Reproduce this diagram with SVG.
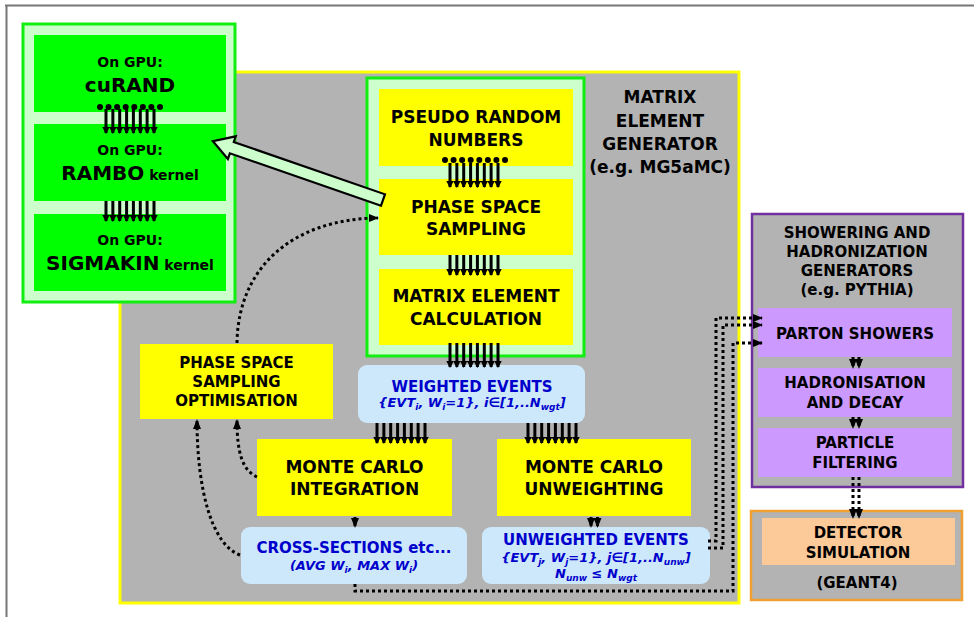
<svg xmlns="http://www.w3.org/2000/svg" xmlns:xlink="http://www.w3.org/1999/xlink" width="974" height="617" viewBox="0 0 974 617">
<style>
text{font-family:"DejaVu Sans","Liberation Sans",sans-serif;font-weight:bold;fill:#000;text-anchor:middle}
.t14{font-size:14px}
.t15{font-size:15px}
.t17{font-size:17px}
.t20{font-size:20px}
.blue{fill:#0000cc}
.it{font-style:italic;font-size:13px;fill:#0000cc}
.sub{font-size:9px}
.yel{fill:#ffff00}
.gpu{fill:#00ff00}
.lb{fill:#cde8fa}
.pur{fill:#cc99ff}
.bar{stroke:#000;stroke-width:3;marker-end:url(#ah)}
.dot{fill:none;stroke:#000;stroke-width:3;stroke-dasharray:3 3}
.dota{marker-end:url(#dah)}
</style>
<defs>
<marker id="ah" markerUnits="userSpaceOnUse" markerWidth="7" markerHeight="7.5" viewBox="0 0 7 7.5" refX="6" refY="3.75" orient="auto"><path d="M0,0L7,3.75L0,7.5z"/></marker>
<marker id="dah" markerUnits="userSpaceOnUse" markerWidth="10" markerHeight="10" viewBox="0 0 10 10" refX="9" refY="5" orient="auto"><path d="M0,1L10,5L0,9z"/></marker>
<g id="b8s" class="bar"><line x1="0" y1="0" x2="0" y2="20"/><line x1="6.86" y1="0" x2="6.86" y2="20"/><line x1="13.7" y1="0" x2="13.7" y2="20"/><line x1="20.6" y1="0" x2="20.6" y2="20"/><line x1="27.4" y1="0" x2="27.4" y2="20"/><line x1="34.3" y1="0" x2="34.3" y2="20"/><line x1="41.1" y1="0" x2="41.1" y2="20"/><line x1="48" y1="0" x2="48" y2="20"/></g>
<g id="b8l" class="bar"><line x1="0" y1="0" x2="0" y2="24"/><line x1="6.86" y1="0" x2="6.86" y2="24"/><line x1="13.7" y1="0" x2="13.7" y2="24"/><line x1="20.6" y1="0" x2="20.6" y2="24"/><line x1="27.4" y1="0" x2="27.4" y2="24"/><line x1="34.3" y1="0" x2="34.3" y2="24"/><line x1="41.1" y1="0" x2="41.1" y2="24"/><line x1="48" y1="0" x2="48" y2="24"/></g>
<g id="d8"><circle cx="0" cy="0" r="3"/><circle cx="8.57" cy="0" r="3"/><circle cx="17.1" cy="0" r="3"/><circle cx="25.7" cy="0" r="3"/><circle cx="34.3" cy="0" r="3"/><circle cx="42.9" cy="0" r="3"/><circle cx="51.4" cy="0" r="3"/><circle cx="60" cy="0" r="3"/></g>
</defs>
<rect width="974" height="617" fill="#fff"/>
<path d="M5,5.5H974M6.5,5V617" stroke="#777" stroke-width="2" fill="none"/>

<g id="meg">
<rect x="120" y="72" width="619" height="531" fill="#b3b3b3" stroke="#ffff00" stroke-width="3"/>
<text class="t17" x="660" y="103">MATRIX</text>
<text class="t17" x="660" y="127">ELEMENT</text>
<text class="t17" x="660" y="150">GENERATOR</text>
<text class="t17" x="660" y="173">(e.g. MG5aMC)</text>
</g>

<g id="gpu">
<rect x="23" y="24" width="212" height="278" fill="#ccffcc" stroke="#11ee11" stroke-width="3"/>
</g>
<g id="curand">
<rect class="gpu" x="34" y="35" width="192" height="77"/>
<text class="t14" x="130" y="67">On GPU:</text>
<text class="t20" x="130" y="92">cuRAND</text>
</g>
<g id="rambo">
<rect class="gpu" x="34" y="124" width="192" height="77"/>
<text class="t14" x="130" y="155">On GPU:</text>
<text x="130" y="180"><tspan class="t20">RAMBO</tspan><tspan class="t14"> kernel</tspan></text>
</g>
<g id="sigmakin">
<rect class="gpu" x="34" y="214" width="192" height="77"/>
<text class="t14" x="130" y="245">On GPU:</text>
<text x="130" y="270"><tspan class="t20">SIGMAKIN</tspan><tspan class="t14"> kernel</tspan></text>
</g>

<g id="mecol">
<rect x="367" y="78" width="217" height="278" fill="#ccffcc" stroke="#11ee11" stroke-width="3"/>
</g>
<g id="prn">
<rect class="yel" x="379" y="89" width="194" height="77"/>
<text class="t17" x="476" y="123">PSEUDO RANDOM</text>
<text class="t17" x="476" y="146">NUMBERS</text>
</g>
<g id="pss">
<rect class="yel" x="379" y="179" width="194" height="76"/>
<text class="t17" x="476" y="213">PHASE SPACE</text>
<text class="t17" x="476" y="235">SAMPLING</text>
</g>
<g id="mec">
<rect class="yel" x="379" y="269" width="194" height="76"/>
<text class="t17" x="476" y="302">MATRIX ELEMENT</text>
<text class="t17" x="476" y="325">CALCULATION</text>
</g>

<g id="wev">
<rect class="lb" x="358" y="365" width="227" height="58" rx="9"/>
<text class="t15 blue" x="472" y="392">WEIGHTED EVENTS</text>
<text class="it" x="472" y="407">{EVT<tspan class="sub" dy="3">i</tspan><tspan dy="-3">, W</tspan><tspan class="sub" dy="3">i</tspan><tspan dy="-3">=1}, i∈[1,..N</tspan><tspan class="sub" dy="3">wgt</tspan><tspan dy="-3">]</tspan></text>
</g>

<g id="pso">
<rect class="yel" x="140" y="344" width="193" height="75"/>
<text class="t15" x="236.5" y="368">PHASE SPACE</text>
<text class="t15" x="236.5" y="387">SAMPLING</text>
<text class="t15" x="236.5" y="406">OPTIMISATION</text>
</g>

<g id="mcint">
<rect class="yel" x="257" y="439" width="195" height="77"/>
<text class="t17" x="354.5" y="473">MONTE CARLO</text>
<text class="t17" x="354.5" y="495">INTEGRATION</text>
</g>
<g id="mcunw">
<rect class="yel" x="497" y="439" width="194" height="77"/>
<text class="t17" x="594" y="473">MONTE CARLO</text>
<text class="t17" x="594" y="495">UNWEIGHTING</text>
</g>

<g id="xsec">
<rect class="lb" x="241" y="527" width="226" height="57" rx="9"/>
<text class="t15 blue" x="354" y="553">CROSS-SECTIONS etc...</text>
<text class="it" x="354" y="570">(AVG W<tspan class="sub" dy="3">i</tspan><tspan dy="-3">, MAX W</tspan><tspan class="sub" dy="3">i</tspan><tspan dy="-3">)</tspan></text>
</g>
<g id="uwev">
<rect class="lb" x="482" y="527" width="228" height="57" rx="9"/>
<text class="t15 blue" x="596" y="545">UNWEIGHTED EVENTS</text>
<text class="it" x="596" y="562">{EVT<tspan class="sub" dy="3">j</tspan><tspan dy="-3">, W</tspan><tspan class="sub" dy="3">j</tspan><tspan dy="-3">=1}, j∈[1,..N</tspan><tspan class="sub" dy="3">unw</tspan><tspan dy="-3">]</tspan></text>
<text class="it" x="596" y="578">N<tspan class="sub" dy="3">unw</tspan><tspan dy="-3"> ≤ N</tspan><tspan class="sub" dy="3">wgt</tspan></text>
</g>

<g id="shower">
<rect x="752" y="214" width="211" height="273" fill="#b3b3b3" stroke="#7030a0" stroke-width="2.5"/>
<text class="t15" x="857" y="238">SHOWERING AND</text>
<text class="t15" x="857" y="257">HADRONIZATION</text>
<text class="t15" x="857" y="276">GENERATORS</text>
<text class="t15" x="857" y="295">(e.g. PYTHIA)</text>
</g>
<g id="parton">
<rect class="pur" x="758" y="308" width="194" height="49"/>
<text class="t15" x="855" y="339">PARTON SHOWERS</text>
</g>
<g id="hadron">
<rect class="pur" x="758" y="368" width="194" height="49"/>
<text class="t15" x="855" y="388">HADRONISATION</text>
<text class="t15" x="855" y="408">AND DECAY</text>
</g>
<g id="filter">
<rect class="pur" x="758" y="428" width="194" height="49"/>
<text class="t15" x="855" y="448">PARTICLE</text>
<text class="t15" x="855" y="468">FILTERING</text>
</g>
<g id="geant">
<rect x="751" y="511" width="211" height="89" fill="#b3b3b3" stroke="#f0a030" stroke-width="2.5"/>
<text class="t15" x="857" y="588">(GEANT4)</text>
</g>
<g id="detsim">
<rect x="762" y="518" width="193" height="47" fill="#fcc998"/>
<text class="t15" x="858" y="538">DETECTOR</text>
<text class="t15" x="858" y="558">SIMULATION</text>
</g>

<g id="connectors">
<use xlink:href="#d8" x="100" y="107"/>
<use xlink:href="#b8l" x="106" y="109"/>
<use xlink:href="#b8s" x="106" y="201"/>
<use xlink:href="#d8" x="445" y="160"/>
<use xlink:href="#b8l" x="450" y="163"/>
<use xlink:href="#b8s" x="450" y="255"/>
<use xlink:href="#b8l" x="450" y="343"/>
<use xlink:href="#b8s" x="377" y="423"/>
<use xlink:href="#b8s" x="528" y="423"/>
<polygon points="0,-6 160,-6 160,-12 180,0 160,12 160,6 0,6" transform="translate(383,200) rotate(199.1)" fill="#ccffcc" stroke="#000" stroke-width="2.2" stroke-linejoin="miter"/>
<path class="dot dota" d="M237,343C238,268 292,219 378,218"/>
<path class="dot dota" d="M257,477C242,470 237,452 237,420"/>
<path class="dot dota" d="M240,555C212,545 197,490 197,420"/>
<path class="dot dota" d="M355,517V527"/>
<path class="dot dota" d="M591,517V527"/>
<path class="dot dota" d="M597.5,517V527"/>
<path class="dot dota" d="M708,541H716V318H762"/>
<path class="dot dota" d="M708,548H723V325H762"/>
<path class="dot dota" d="M355,584V591H733V343H762"/>
<path class="dot dota" d="M853,357V368"/>
<path class="dot dota" d="M859,357V368"/>
<path class="dot dota" d="M853,417V428"/>
<path class="dot dota" d="M859,417V428"/>
<path class="dot dota" d="M853,477V518"/>
<path class="dot dota" d="M859,477V518"/>
</g>
</svg>
